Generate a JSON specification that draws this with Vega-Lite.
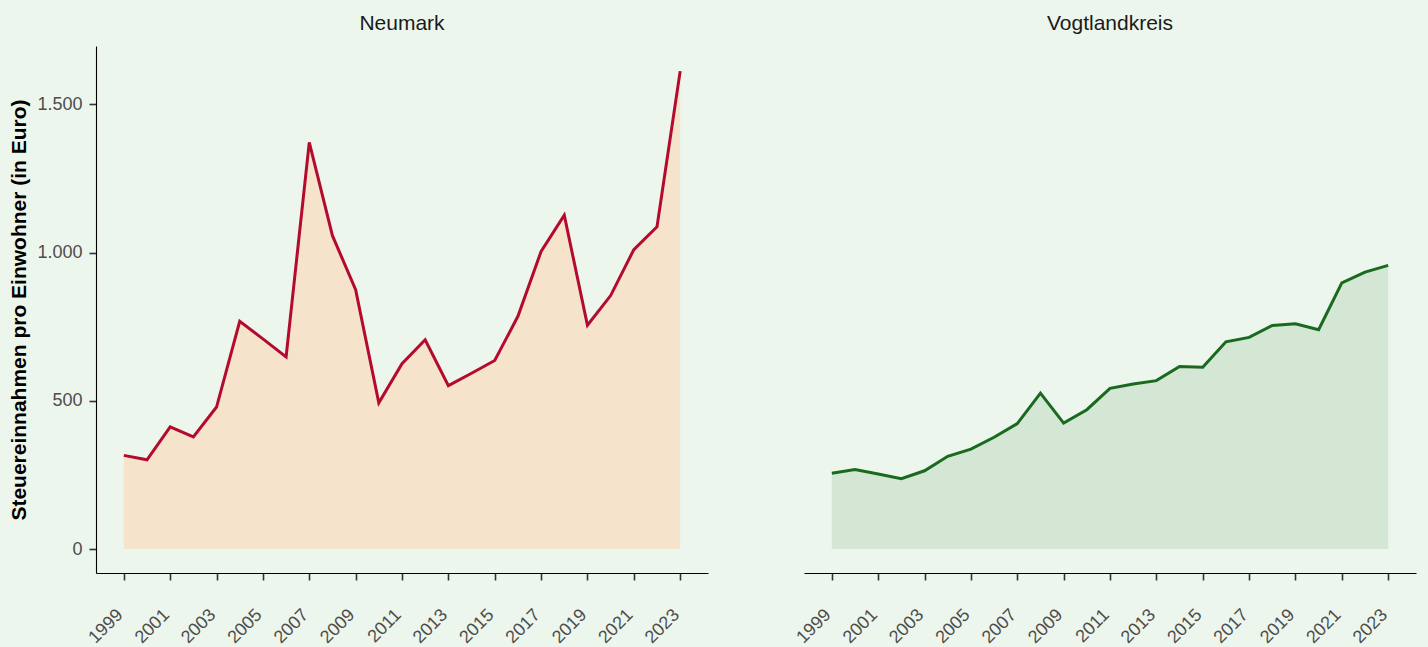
{
  "$schema": "https://vega.github.io/schema/vega-lite/v6.json",
  "background": "#EDF6EC",
  "padding": {"left": 8, "top": 13, "right": 12, "bottom": 10},
  "data": {
    "values": [
      {"region": "Neumark", "year": 1999, "value": 316},
      {"region": "Neumark", "year": 2000, "value": 301},
      {"region": "Neumark", "year": 2001, "value": 412},
      {"region": "Neumark", "year": 2002, "value": 378},
      {"region": "Neumark", "year": 2003, "value": 479},
      {"region": "Neumark", "year": 2004, "value": 768},
      {"region": "Neumark", "year": 2005, "value": 709},
      {"region": "Neumark", "year": 2006, "value": 648},
      {"region": "Neumark", "year": 2007, "value": 1372},
      {"region": "Neumark", "year": 2008, "value": 1057},
      {"region": "Neumark", "year": 2009, "value": 875},
      {"region": "Neumark", "year": 2010, "value": 493},
      {"region": "Neumark", "year": 2011, "value": 625},
      {"region": "Neumark", "year": 2012, "value": 706},
      {"region": "Neumark", "year": 2013, "value": 551},
      {"region": "Neumark", "year": 2014, "value": 593},
      {"region": "Neumark", "year": 2015, "value": 636},
      {"region": "Neumark", "year": 2016, "value": 785},
      {"region": "Neumark", "year": 2017, "value": 1004},
      {"region": "Neumark", "year": 2018, "value": 1126},
      {"region": "Neumark", "year": 2019, "value": 755},
      {"region": "Neumark", "year": 2020, "value": 855},
      {"region": "Neumark", "year": 2021, "value": 1010},
      {"region": "Neumark", "year": 2022, "value": 1087},
      {"region": "Neumark", "year": 2023, "value": 1612},
      {"region": "Vogtlandkreis", "year": 1999, "value": 256},
      {"region": "Vogtlandkreis", "year": 2000, "value": 268},
      {"region": "Vogtlandkreis", "year": 2001, "value": 253},
      {"region": "Vogtlandkreis", "year": 2002, "value": 237},
      {"region": "Vogtlandkreis", "year": 2003, "value": 264},
      {"region": "Vogtlandkreis", "year": 2004, "value": 313},
      {"region": "Vogtlandkreis", "year": 2005, "value": 337},
      {"region": "Vogtlandkreis", "year": 2006, "value": 377},
      {"region": "Vogtlandkreis", "year": 2007, "value": 423},
      {"region": "Vogtlandkreis", "year": 2008, "value": 526},
      {"region": "Vogtlandkreis", "year": 2009, "value": 425},
      {"region": "Vogtlandkreis", "year": 2010, "value": 470},
      {"region": "Vogtlandkreis", "year": 2011, "value": 542},
      {"region": "Vogtlandkreis", "year": 2012, "value": 557},
      {"region": "Vogtlandkreis", "year": 2013, "value": 568},
      {"region": "Vogtlandkreis", "year": 2014, "value": 616},
      {"region": "Vogtlandkreis", "year": 2015, "value": 613},
      {"region": "Vogtlandkreis", "year": 2016, "value": 699},
      {"region": "Vogtlandkreis", "year": 2017, "value": 714},
      {"region": "Vogtlandkreis", "year": 2018, "value": 754},
      {"region": "Vogtlandkreis", "year": 2019, "value": 760},
      {"region": "Vogtlandkreis", "year": 2020, "value": 740},
      {"region": "Vogtlandkreis", "year": 2021, "value": 898},
      {"region": "Vogtlandkreis", "year": 2022, "value": 934},
      {"region": "Vogtlandkreis", "year": 2023, "value": 957}
    ]
  },
  "facet": {
    "column": {
      "field": "region",
      "type": "nominal",
      "title": null,
      "sort": ["Neumark", "Vogtlandkreis"],
      "header": {
        "labelFontSize": 21,
        "labelFont": "Liberation Sans",
        "labelColor": "#1A1A1A",
        "labelPadding": -5,
        "labelBaseline": "alphabetic"
      }
    }
  },
  "spacing": {"column": 96},
  "spec": {
    "width": 612,
    "height": 527,
    "encoding": {
      "x": {
        "field": "year",
        "type": "quantitative",
        "scale": {"domain": [1997.8, 2024.2], "nice": false, "zero": false},
        "axis": {
          "values": [1999, 2001, 2003, 2005, 2007, 2009, 2011, 2013, 2015, 2017, 2019, 2021, 2023],
          "format": "d",
          "title": null,
          "grid": false,
          "labelAngle": -45,
          "labelAlign": "right",
          "labelBaseline": "middle",
          "labelPadding": 32,
          "labelOffset": -4,
          "tickSize": 7,
          "labelOverlap": false,
          "labelFlush": false
        }
      },
      "y": {
        "field": "value",
        "type": "quantitative",
        "scale": {"domain": [-80.8, 1696.8], "nice": false, "zero": false},
        "axis": {
          "values": [0, 500, 1000, 1500],
          "labelExpr": "replace(format(datum.value, ',d'), ',', '.')",
          "title": "Steuereinnahmen pro Einwohner (in Euro)",
          "titleFontSize": 21,
          "titleFontWeight": "bold",
          "titleColor": "#000000",
          "titlePadding": 7,
          "grid": false,
          "tickSize": 7,
          "labelPadding": 7,
          "labelFlush": false
        }
      }
    },
    "layer": [
      {
        "mark": {"type": "area"},
        "encoding": {
          "y2": {"datum": 0},
          "fill": {
            "field": "region",
            "type": "nominal",
            "scale": {"domain": ["Neumark", "Vogtlandkreis"], "range": ["#F5E3CC", "#D4E6D4"]},
            "legend": null
          }
        }
      },
      {
        "mark": {"type": "line", "strokeWidth": 3},
        "encoding": {
          "stroke": {
            "field": "region",
            "type": "nominal",
            "scale": {"domain": ["Neumark", "Vogtlandkreis"], "range": ["#B40A2D", "#19691E"]},
            "legend": null
          }
        }
      }
    ]
  },
  "config": {
    "view": {"stroke": null},
    "axis": {
      "domainColor": "#000000",
      "domainWidth": 1.1,
      "tickColor": "#333333",
      "tickWidth": 1.6,
      "labelFont": "Liberation Sans",
      "labelFontSize": 18,
      "labelColor": "#4D4D4D",
      "titleFont": "Liberation Sans"
    }
  }
}
